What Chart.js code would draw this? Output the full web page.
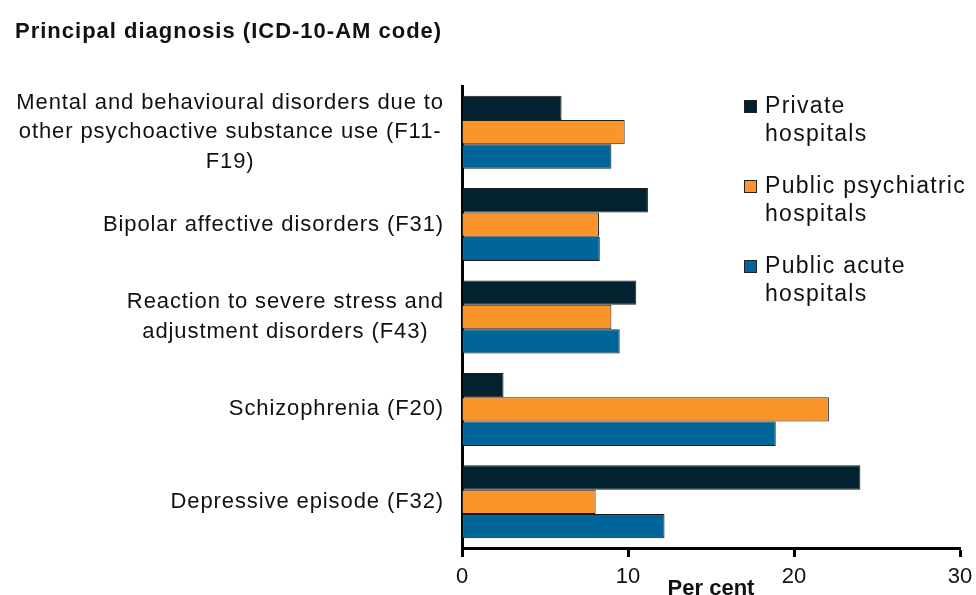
<!DOCTYPE html>
<html>
<head>
<meta charset="utf-8">
<script src="https://cdn.jsdelivr.net/npm/chart.js@4.4.1/dist/chart.umd.min.js"></script>
<style>
  html, body { margin: 0; padding: 0; background: #fff; }
</style>
</head>
<body>
<canvas id="chart" width="976" height="595"></canvas>
<script>
const chartTitle = 'Principal diagnosis (ICD-10-AM code)';
const categories = [
  ['Mental and behavioural disorders due to', 'other psychoactive substance use (F11-', 'F19)'],
  ['Bipolar affective disorders (F31)'],
  ['Reaction to severe stress and', 'adjustment disorders (F43)'],
  ['Schizophrenia (F20)'],
  ['Depressive episode (F32)']
];
const privateVals = [6.0, 11.2, 10.5, 2.5, 24.0];
const psychVals = [9.8, 8.25, 9.0, 22.1, 8.05];
const acuteVals = [9.0, 8.3, 9.5, 18.9, 12.2];
const seriesNames = ['Private hospitals', 'Public psychiatric hospitals', 'Public acute hospitals'];
const legendLines = [['Private', 'hospitals'], ['Public psychiatric', 'hospitals'], ['Public acute', 'hospitals']];
const seriesColors = ['#02222f', '#fb9429', '#00669a'];
const xTicks = [0, 10, 20, 30];

const FONT = '"Liberation Sans", Arial, sans-serif';

// y labels, title and legend drawn by hand so the text can be centred the way the original is
const textPlugin = {
  id: 'textPlugin',
  afterDraw(chart) {
    const ctx = chart.ctx;
    const yScale = chart.scales.y;
    ctx.save();
    ctx.fillStyle = '#111';
    ctx.textBaseline = 'middle';

    ctx.font = 'bold 22px ' + FONT;
    ctx.letterSpacing = '1px';
    ctx.textAlign = 'left';
    ctx.fillText(chartTitle, 15, 32);

    ctx.font = '22px ' + FONT;
    ctx.letterSpacing = '0.9px';
    ctx.textAlign = 'center';
    const right = yScale.right - 18;
    chart.data.labels.forEach((lines, i) => {
      const y = yScale.getPixelForTick(i);
      const w = Math.max(...lines.map(l => ctx.measureText(l).width));
      const cx = right - w / 2;
      lines.forEach((l, j) => {
        ctx.fillText(l, cx, y + (j - (lines.length - 1) / 2) * 29.5);
      });
    });

    ctx.font = '23px ' + FONT;
    ctx.letterSpacing = '1.3px';
    ctx.textAlign = 'left';
    legendLines.forEach((lines, i) => {
      const top = 107 + i * 80;
      ctx.fillStyle = seriesColors[i];
      ctx.fillRect(744, top - 7, 13, 13);
      ctx.strokeStyle = '#222';
      ctx.lineWidth = 1;
      ctx.strokeRect(744.5, top - 6.5, 12, 12);
      ctx.fillStyle = '#111';
      lines.forEach((l, j) => ctx.fillText(l, 765, top + j * 28));
    });
    ctx.restore();
  }
};

const datasets = [privateVals, psychVals, acuteVals].map((vals, i) => ({
  label: seriesNames[i],
  data: vals,
  backgroundColor: seriesColors[i],
  borderColor: '#1b1b1b',
  borderWidth: 1,
  categoryPercentage: 0.79,
  barPercentage: 1.0
}));

new Chart(document.getElementById('chart'), {
  type: 'bar',
  data: { labels: categories, datasets: datasets },
  options: {
    indexAxis: 'y',
    responsive: false,
    animation: false,
    layout: { padding: { top: 86, right: 0, bottom: 0, left: 0 } },
    plugins: {
      legend: { display: false },
      title: { display: false },
      tooltip: { enabled: false }
    },
    scales: {
      x: {
        min: 0,
        max: 30,
        afterBuildTicks: scale => { scale.ticks = xTicks.map(v => ({ value: v })); },
        afterFit: scale => {
          scale.height = 47;
          scale.paddingRight = 16;
          scale.paddingLeft = 0;
        },
        grid: { drawOnChartArea: false, drawTicks: true, tickLength: 9, tickWidth: 3, color: '#000' },
        border: { display: true, width: 3, color: '#000' },
        ticks: { color: '#111', font: { family: FONT, size: 22 }, padding: 7 },
        title: {
          display: true,
          text: 'Per cent',
          color: '#111',
          font: { family: FONT, size: 22, weight: 'bold' },
          padding: { top: -14, bottom: -7 }
        }
      },
      y: {
        afterFit: scale => { scale.width = 462; },
        grid: { display: false },
        border: { display: true, width: 3, color: '#000' },
        ticks: { display: false }
      }
    }
  },
  plugins: [textPlugin]
});
</script>
</body>
</html>
